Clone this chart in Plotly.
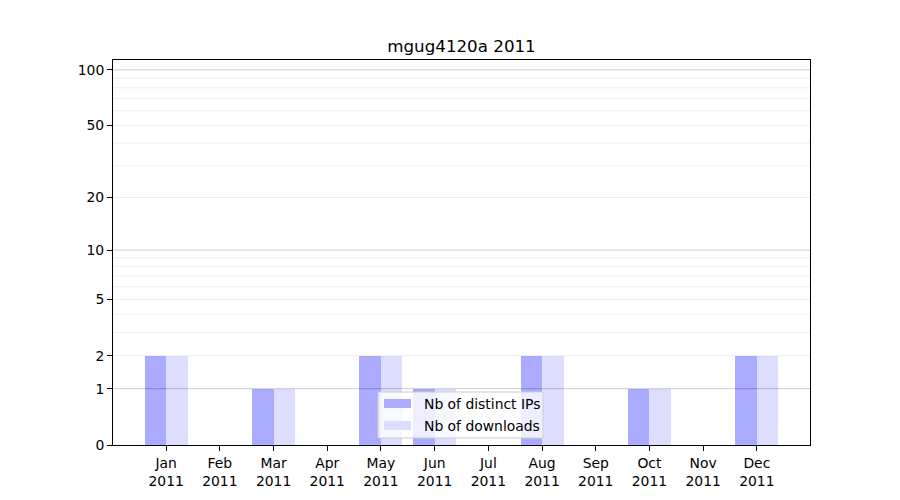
import numpy as np
import plotly.graph_objects as go

months = ["Jan", "Feb", "Mar", "Apr", "May", "Jun", "Jul", "Aug", "Sep", "Oct", "Nov", "Dec"]
year = "2011"
distinct_ips = [2, 0, 1, 0, 2, 1, 0, 2, 0, 1, 0, 2]
downloads = [2, 0, 1, 0, 2, 1, 0, 2, 0, 1, 0, 2]
y_ticks = [0, 1, 2, 5, 10, 20, 50, 100]
major_grid = [1, 10, 100]
minor_grid = [2, 3, 4, 5, 6, 7, 8, 9, 20, 30, 40, 50, 60, 70, 80, 90]
y_max = 113
series_names = ["Nb of distinct IPs", "Nb of downloads"]
series_colors = ["#aaaaff", "#ddddff"]


def tr(v):
    return np.log10(1 + np.asarray(v, dtype=float))


# plot area on screen: x 113..810, y 60..445 (page has 8px body margin)
PL, PR, PT, PB = 113, 810, 60, 445


def px(X):
    return (X - PL) / (PR - PL)


def py(Y):
    return (PB - Y) / (PB - PT)


x = np.arange(len(months))
font = "DejaVu Sans"

fig = go.Figure()
fig.add_trace(go.Bar(x=x - 0.2, y=tr(distinct_ips), width=0.4, name=series_names[0],
                     marker=dict(color=series_colors[0], line=dict(width=0))))
fig.add_trace(go.Bar(x=x + 0.2, y=tr(downloads), width=0.4, name=series_names[1],
                     marker=dict(color=series_colors[1], line=dict(width=0))))

shapes = []
for v in minor_grid:
    shapes.append(dict(type="line", xref="paper", yref="y", x0=0, x1=1, y0=float(tr(v)), y1=float(tr(v)),
                       line=dict(color="rgba(0,0,0,0.07)", width=1), layer="above"))
for v in major_grid:
    shapes.append(dict(type="line", xref="paper", yref="y", x0=0, x1=1, y0=float(tr(v)), y1=float(tr(v)),
                       line=dict(color="rgba(0,0,0,0.2)", width=1), layer="above"))

# manual legend (matplotlib style)
shapes.append(dict(type="rect", xref="paper", yref="paper", x0=px(378), x1=px(543), y0=py(438), y1=py(392),
                   fillcolor="rgba(255,255,255,0.8)", line=dict(color="#cccccc", width=1), layer="above"))
annotations = []
rows = [(398, 409, 403.5), (420, 431, 425.5)]
for (t0, t1, tc), name, col in zip(rows, series_names, series_colors):
    shapes.append(dict(type="rect", xref="paper", yref="paper", x0=px(384), x1=px(411), y0=py(t1 - 1), y1=py(t0 + 1),
                       fillcolor=col, line=dict(width=0), layer="above"))
    annotations.append(dict(text=name, xref="paper", yref="paper", x=px(422), y=py(tc), xanchor="left",
                            yanchor="middle", showarrow=False, font=dict(size=13.9, family=font, color="black")))

fig.update_layout(
    width=900, height=500,
    margin=dict(l=PL - 8, r=900 - (PR - 8), t=PT - 8, b=500 - (PB - 8)),
    paper_bgcolor="white", plot_bgcolor="white",
    font=dict(family=font, size=14, color="black"),
    title=dict(text="mgug4120a 2011", x=0.5, xref="paper", xanchor="center", y=1 - 38 / 500, yanchor="middle",
               font=dict(size=16.7, family=font)),
    barmode="overlay",
    bargap=0,
    shapes=shapes,
    annotations=annotations,
    showlegend=False,
    xaxis=dict(range=[-0.99, 11.99], tickmode="array", tickvals=list(x),
               ticktext=[f"{m}<br>{year}" for m in months],
               showgrid=False, zeroline=False, showline=True, linecolor="black", linewidth=1,
               mirror=True, ticks="outside", ticklen=5, tickcolor="black",
               tickfont=dict(size=13.9)),
    yaxis=dict(range=[0, float(tr(y_max))], tickmode="array", tickvals=[float(t) for t in tr(y_ticks)],
               ticktext=[str(t) for t in y_ticks],
               showgrid=False, zeroline=False, showline=True, linecolor="black", linewidth=1,
               mirror=True, ticks="outside", ticklen=5, tickcolor="black",
               tickfont=dict(size=13.9)),
)

fig.write_html("out.html")
